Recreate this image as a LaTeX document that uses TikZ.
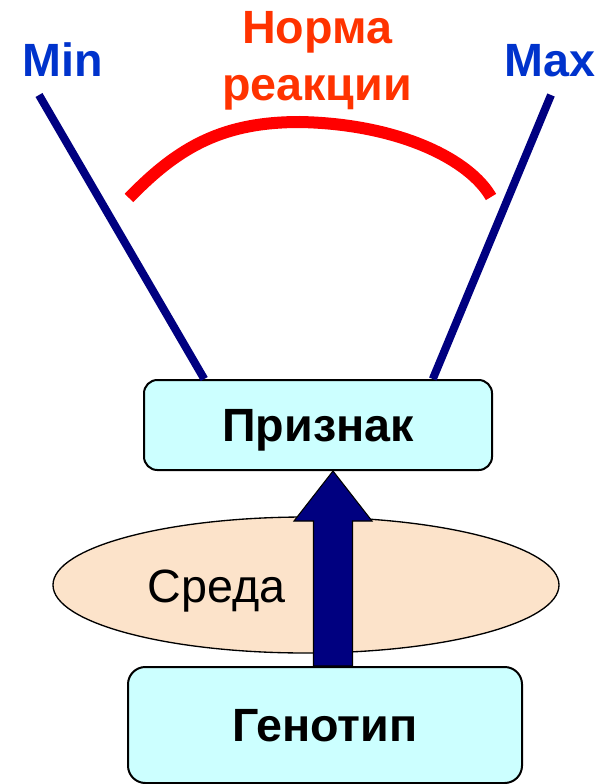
\documentclass[tikz,border=0pt]{standalone}
\usepackage{fontspec}
\setmainfont{Liberation Sans}
\usepackage{tikz}
\usetikzlibrary{shapes.geometric, calc}
\usepackage{xcolor}
\definecolor{limitcol}{RGB}{0,0,128}
\definecolor{labelblue}{RGB}{0,51,204}
\definecolor{normcol}{RGB}{255,51,0}
\definecolor{boxcol}{RGB}{204,255,255}
\definecolor{envcol}{RGB}{252,227,202}

\begin{document}
\begin{tikzpicture}[
    x=0.75pt, y=-0.75pt,
    bigfont/.style={font=\fontsize{35}{43}\selectfont\bfseries},
    traitbox/.style={draw=black, fill=boxcol, line width=1.5pt,
                     rounded corners=10pt, bigfont, inner sep=0pt,
                     text height=25pt, text depth=0pt},
    limit/.style={draw=limitcol, line width=6pt},
    uparrow/.style={draw=black, fill=limitcol, line width=0.8pt},
  ]
    \useasboundingbox (0,0) rectangle (599,784);

    % environment
    \draw[fill=envcol, line width=1pt] (306,585) ellipse [x radius=253, y radius=68];
    \node[anchor=base, font=\fontsize{35}{40}\selectfont] (envtxt) at (216.5,602) {Среда};

    \node[traitbox, minimum width=261pt, minimum height=67.5pt] (pri) at (318,425) {Признак};
    \node[traitbox, rounded corners=13pt, minimum width=295.5pt, minimum height=87pt] (gen) at (325,725) {Генотип};

    % genotype -> trait
    \coordinate (axis) at (333,0);
    \draw[uparrow] ($(axis |- gen.north)+(-19.5,0)$) -- ($(axis |- pri.south)+(-19.5,50)$)
        -- ($(axis |- pri.south)+(-39,50)$) -- (axis |- pri.south)
        -- ($(axis |- pri.south)+(39,50)$) -- ($(axis |- pri.south)+(19.5,50)$)
        -- ($(axis |- gen.north)+(19.5,0)$) -- cycle;

    % limits of the reaction norm
    \coordinate (mintop) at (39,95);
    \coordinate (maxtop) at (551,95);
    \draw[limit] (mintop) -- ($(pri.north west)!0.175!(pri.north east)$);
    \draw[limit] (maxtop) -- ($(pri.north west)!0.828!(pri.north east)$);

    \node[anchor=base, bigfont, text=labelblue] (min) at (63,77) {Min};
    \node[anchor=base, bigfont, text=labelblue] (max) at (550,77) {Max};
    \node[anchor=north, bigfont, text=normcol, align=center, inner sep=0pt] (norm) at (317,11) {Норма\\реакции};

    \coordinate (arcl) at (129,198);
    \coordinate (arcm) at (300,122);
    \coordinate (arcr) at (491,197);
    \draw[red, line width=9pt] (arcl) .. controls (180,145) and (225,122) .. (arcm)
        .. controls (400,124) and (470,160) .. (arcr);
  \end{tikzpicture}
\end{document}
